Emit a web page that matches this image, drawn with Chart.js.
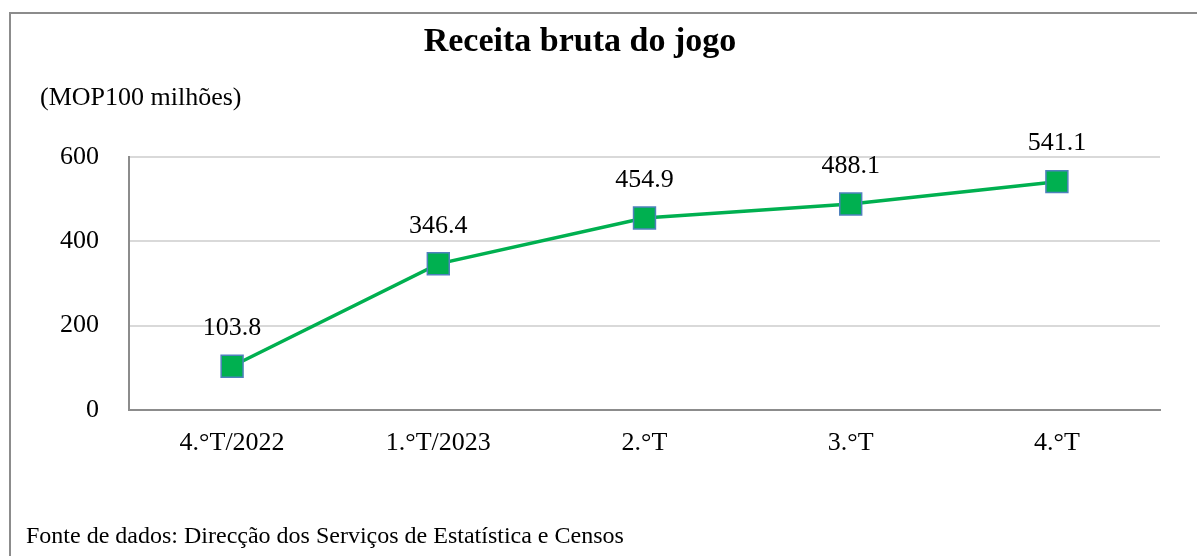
<!DOCTYPE html>
<html>
<head>
<meta charset="utf-8">
<script src="https://cdn.jsdelivr.net/npm/chart.js@4/dist/chart.umd.min.js"></script>
<style>
  html, body { margin: 0; padding: 0; background: #fff; }
  #wrap { position: relative; width: 1197px; height: 556px; overflow: hidden; }
  #frame {
    position: absolute; left: 9px; top: 12px; width: 1300px; height: 700px;
    border-left: 2px solid #8c8c8c; border-top: 2px solid #8c8c8c;
  }
  #chart { position: absolute; left: 0; top: 0; }
  .txt { position: absolute; font-family: "Liberation Serif", "Times New Roman", serif; color: #000; white-space: nowrap; }
  #unit { left: 40px; top: 82px; font-size: 26px; }
  #source { left: 26px; top: 522px; font-size: 24px; }
</style>
</head>
<body>
<div id="wrap">
  <div id="frame"></div>
  <canvas id="chart" width="1197" height="556"></canvas>
  <div class="txt" id="unit">(MOP100 milhões)</div>
  <div class="txt" id="source">Fonte de dados: Direcção dos Serviços de Estatística e Censos</div>
</div>
<script>
const quarters = ["4.\u00b0T/2022", "1.\u00b0T/2023", "2.\u00b0T", "3.\u00b0T", "4.\u00b0T"];
const revenue = [103.8, 346.4, 454.9, 488.1, 541.1];
const yTicks = [0, 200, 400, 600];

const serif = "'Liberation Serif', 'Times New Roman', serif";

// labels above each point
const pointLabels = {
  id: "pointLabels",
  afterDatasetsDraw(chart) {
    const ctx = chart.ctx;
    const meta = chart.getDatasetMeta(0);
    ctx.save();
    ctx.font = "26px " + serif;
    ctx.fillStyle = "#000";
    ctx.textAlign = "center";
    ctx.textBaseline = "middle";
    meta.data.forEach((pt, i) => {
      ctx.fillText(revenue[i].toFixed(1), pt.x, pt.y - 38);
    });
    ctx.restore();
  }
};

const ctx = document.getElementById("chart").getContext("2d");
new Chart(ctx, {
  type: "line",
  data: {
    labels: quarters,
    datasets: [
      {
        data: revenue,
        borderColor: "#00b050",
        borderWidth: 3.5,
        backgroundColor: "#00b050",
        pointStyle: "rect",
        pointRadius: 15.5,
        pointHoverRadius: 15.5,
        pointBackgroundColor: "#00b050",
        pointBorderColor: "#4f81bd",
        pointBorderWidth: 1.5,
        tension: 0,
      },
    ],
  },
  options: {
    responsive: false,
    animation: false,
    layout: { padding: { left: 0, right: 37, top: 0, bottom: 0 } },
    plugins: {
      legend: { display: false },
      tooltip: { enabled: false },
      title: {
        display: true,
        text: "Receita bruta do jogo",
        color: "#000",
        font: { family: serif, size: 34, weight: "bold", lineHeight: 1.2 },
        padding: { top: 22, bottom: 94 },
      },
    },
    scales: {
      x: {
        offset: true,
        afterFit(scale) { scale.height = 146; },
        grid: { display: false, drawTicks: false },
        border: { display: true, color: "#8c8c8c", width: 2 },
        ticks: {
          color: "#000",
          padding: 18,
          maxRotation: 0,
          autoSkip: false,
          font: { family: serif, size: 26 },
        },
      },
      y: {
        min: 0,
        max: 600,
        afterFit(scale) { scale.width = 129; },
        afterBuildTicks(scale) { scale.ticks = yTicks.map(v => ({ value: v })); },
        grid: { color: "#d9d9d9", lineWidth: 2, drawTicks: false },
        border: { display: true, color: "#8c8c8c", width: 2 },
        ticks: {
          color: "#000",
          padding: 30,
          font: { family: serif, size: 26 },
        },
      },
    },
  },
  plugins: [pointLabels],
});
</script>
</body>
</html>
